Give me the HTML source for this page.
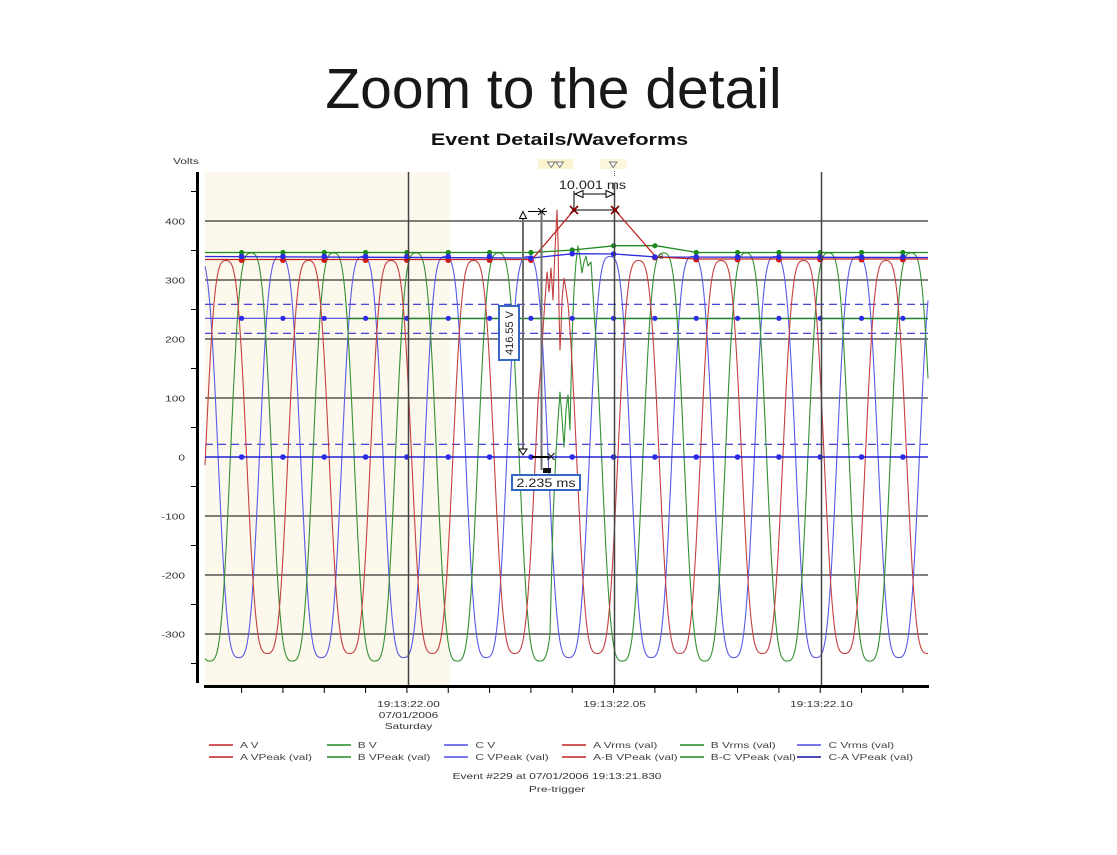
<!DOCTYPE html>
<html><head><meta charset="utf-8">
<style>
html,body{margin:0;padding:0;background:#fff;}
svg{display:block;}
text{font-family:"Liberation Sans",Arial,sans-serif;}
</style></head><body>
<svg id="chart" width="1117" height="855" viewBox="0 0 1117 855" xmlns="http://www.w3.org/2000/svg">
<rect width="1117" height="855" fill="#fff"/>
<text x="553.5" y="108" font-size="57" text-anchor="middle" fill="#181818">Zoom to the detail</text>
<text transform="translate(559.5,145) scale(1.31,1)" font-size="16.5" font-weight="bold" text-anchor="middle" fill="#111">Event Details/Waveforms</text>
<text transform="translate(173,164) scale(1.4,1)" font-size="8.5" fill="#333">Volts</text>

<!-- top markers -->
<rect x="538" y="159" width="35" height="10" fill="#fbf4cf"/>
<rect x="600" y="159" width="27" height="10" fill="#fbf6dc"/>
<polygon points="547.5,162 555,162 551.2,167.5" fill="#fff" stroke="#777" stroke-width="1"/>
<polygon points="556,162 563.5,162 559.7,167.5" fill="#fff" stroke="#777" stroke-width="1"/>
<polygon points="609.5,162 617,162 613.2,167.5" fill="#fff" stroke="#777" stroke-width="1"/>

<!-- plot shaded bg -->
<rect x="205" y="172" width="245" height="513" fill="#fdf8ec"/>

<!-- horizontal grid -->
<g stroke="#000" stroke-width="1">
<line x1="205" x2="928" y1="221" y2="221"/>
<line x1="205" x2="928" y1="280" y2="280"/>
<line x1="205" x2="928" y1="339" y2="339"/>
<line x1="205" x2="928" y1="398" y2="398"/>
<line x1="205" x2="928" y1="457" y2="457"/>
<line x1="205" x2="928" y1="516" y2="516"/>
<line x1="205" x2="928" y1="575" y2="575"/>
<line x1="205" x2="928" y1="634" y2="634"/>
</g>

<!-- dashed blue limit lines -->
<g stroke="#2f2fd0" stroke-width="1.2" stroke-dasharray="8,5">
<line x1="205" x2="928" y1="304.3" y2="304.3"/>
<line x1="205" x2="928" y1="333.3" y2="333.3"/>
<line x1="205" x2="928" y1="444.3" y2="444.3"/>
</g>

<!-- waveforms -->
<g id="waves" fill="none" stroke-width="1.1" stroke-linejoin="round"></g>

<!-- rms/peak lines -->
<g fill="none" stroke-width="1.3">
<path d="M205,252.5 L532,252.5 L573,250 L615,245.7 L656,245.7 L697,252.5 L928,252.5" stroke="#1f8a1f"/>
<path d="M205,256.5 L532,258 L573,253.7 L615,254 L656,257 L928,257.5" stroke="#2a2ae0"/>
<path d="M205,259.5 L532,259.5 L574,210 M615,210 L656,257 L697,259 L928,259" stroke="#c02020"/>
<line x1="205" x2="928" y1="318.3" y2="318.3" stroke="#4a4ae6" stroke-width="1.2"/>
<line x1="347" x2="928" y1="318.6" y2="318.6" stroke="#1f8a1f" stroke-width="1.4"/>
<line x1="205" x2="928" y1="457" y2="457" stroke="#2020d8" stroke-width="1.4"/>
</g>
<g id="dots"></g>
<text x="659" y="259" font-size="7" fill="#333">B</text>

<!-- vertical cursor lines -->
<g stroke="#444" stroke-width="1.5">
<line x1="408.5" x2="408.5" y1="172" y2="686"/>
<line x1="614.5" x2="614.5" y1="183" y2="686"/>
<line x1="821.5" x2="821.5" y1="172" y2="686"/>
</g>
<line x1="614.5" x2="614.5" y1="171" y2="176" stroke="#666" stroke-width="1" stroke-dasharray="1,1"/>

<!-- axes -->
<line x1="197.5" x2="197.5" y1="172" y2="683" stroke="#000" stroke-width="3"/>
<line x1="204" x2="929" y1="686.5" y2="686.5" stroke="#000" stroke-width="3"/>
<g stroke="#000" stroke-width="1">
<line x1="191" x2="197" y1="191.5" y2="191.5"/>
<line x1="191" x2="197" y1="250.5" y2="250.5"/>
<line x1="191" x2="197" y1="309.5" y2="309.5"/>
<line x1="191" x2="197" y1="368.5" y2="368.5"/>
<line x1="191" x2="197" y1="427.5" y2="427.5"/>
<line x1="191" x2="197" y1="486.5" y2="486.5"/>
<line x1="191" x2="197" y1="545.5" y2="545.5"/>
<line x1="191" x2="197" y1="604.5" y2="604.5"/>
<line x1="191" x2="197" y1="663.5" y2="663.5"/>
</g>
<g id="xticks" stroke="#000" stroke-width="1"></g>

<!-- y labels -->
<g font-size="8.5" fill="#333" text-anchor="end">
<text transform="translate(185,224.5) scale(1.4,1)">400</text>
<text transform="translate(185,283.5) scale(1.4,1)">300</text>
<text transform="translate(185,342.5) scale(1.4,1)">200</text>
<text transform="translate(185,401.5) scale(1.4,1)">100</text>
<text transform="translate(185,460.5) scale(1.4,1)">0</text>
<text transform="translate(185,519.5) scale(1.4,1)">-100</text>
<text transform="translate(185,578.5) scale(1.4,1)">-200</text>
<text transform="translate(185,637.5) scale(1.4,1)">-300</text>
</g>

<!-- x labels -->
<g font-size="8.5" fill="#333" text-anchor="middle">
<text transform="translate(408.5,707) scale(1.4,1)">19:13:22.00</text>
<text transform="translate(408.5,718) scale(1.4,1)">07/01/2006</text>
<text transform="translate(408.5,729) scale(1.4,1)">Saturday</text>
<text transform="translate(614.5,707) scale(1.4,1)">19:13:22.05</text>
<text transform="translate(821.5,707) scale(1.4,1)">19:13:22.10</text>
</g>

<!-- annotations -->
<text transform="translate(592.5,189) scale(1.2,1)" font-size="12" text-anchor="middle" fill="#222">10.001 ms</text>
<line x1="575" x2="614" y1="194" y2="194" stroke="#000" stroke-width="1"/>
<polygon points="575,194 583,190.5 583,197.5" fill="#fff" stroke="#000" stroke-width="1"/>
<polygon points="614,194 606,190.5 606,197.5" fill="#fff" stroke="#000" stroke-width="1"/>
<line x1="574" x2="574" y1="191" y2="210" stroke="#000" stroke-width="1"/>
<line x1="574" x2="615" y1="210" y2="210" stroke="#000" stroke-width="1"/>
<g stroke="#7a0000" stroke-width="1.6">
<line x1="570" y1="206" x2="578" y2="214"/><line x1="570" y1="214" x2="578" y2="206"/>
<line x1="611" y1="206" x2="619" y2="214"/><line x1="611" y1="214" x2="619" y2="206"/>
</g>
<circle cx="574" cy="210" r="2" fill="#8a0000"/>
<circle cx="615" cy="210" r="2" fill="#8a0000"/>

<line x1="523" x2="523" y1="216" y2="452" stroke="#6e6e6e" stroke-width="2"/>
<line x1="541.5" x2="541.5" y1="211" y2="470" stroke="#6e6e6e" stroke-width="2"/>
<polygon points="519.5,218.5 526.5,218.5 523,211.5" fill="#fff" stroke="#000" stroke-width="1"/>
<line x1="528" x2="547" y1="211.5" y2="211.5" stroke="#000" stroke-width="1"/>
<line x1="538" y1="208" x2="545" y2="215" stroke="#000" stroke-width="1"/>
<line x1="538" y1="215" x2="545" y2="208" stroke="#000" stroke-width="1"/>
<polygon points="519,449 527,449 523,455" fill="#fff" stroke="#000" stroke-width="1"/>
<line x1="532" x2="549" y1="457" y2="457" stroke="#000" stroke-width="2"/>
<line x1="547.5" y1="453" x2="554.5" y2="460" stroke="#000" stroke-width="1"/>
<line x1="547.5" y1="460" x2="554.5" y2="453" stroke="#000" stroke-width="1"/>
<rect x="543" y="468" width="8" height="5" fill="#111"/>

<rect x="499" y="306" width="20" height="54" fill="#fff" stroke="#3568c0" stroke-width="2"/>
<text transform="translate(513,333) rotate(-90)" font-size="11" text-anchor="middle" fill="#222">416.55 V</text>
<rect x="512" y="475" width="68" height="15" fill="#fff" stroke="#3568c0" stroke-width="2"/>
<text transform="translate(546,487) scale(1.2,1)" font-size="12" text-anchor="middle" fill="#222">2.235 ms</text>

<!-- legend -->
<g stroke-width="1.5">
<line x1="209" x2="233" y1="745" y2="745" stroke="#c02020"/>
<line x1="327" x2="351" y1="745" y2="745" stroke="#1f8a1f"/>
<line x1="444" x2="468" y1="745" y2="745" stroke="#4a4ae6"/>
<line x1="562" x2="586" y1="745" y2="745" stroke="#c02020"/>
<line x1="680" x2="704" y1="745" y2="745" stroke="#1f8a1f"/>
<line x1="797" x2="821" y1="745" y2="745" stroke="#4a4ae6"/>
<line x1="209" x2="233" y1="757" y2="757" stroke="#c02020"/>
<line x1="327" x2="351" y1="757" y2="757" stroke="#1f8a1f"/>
<line x1="444" x2="468" y1="757" y2="757" stroke="#4a4ae6"/>
<line x1="562" x2="586" y1="757" y2="757" stroke="#c02020"/>
<line x1="680" x2="704" y1="757" y2="757" stroke="#1f8a1f"/>
<line x1="797" x2="821" y1="757" y2="757" stroke="#1010a0"/>
</g>
<g font-size="8.5" fill="#444">
<text transform="translate(240,748) scale(1.4,1)">A V</text>
<text transform="translate(357.7,748) scale(1.4,1)">B V</text>
<text transform="translate(475.4,748) scale(1.4,1)">C V</text>
<text transform="translate(593.1,748) scale(1.4,1)">A Vrms (val)</text>
<text transform="translate(710.8,748) scale(1.4,1)">B Vrms (val)</text>
<text transform="translate(828.5,748) scale(1.4,1)">C Vrms (val)</text>
<text transform="translate(240,760) scale(1.4,1)">A VPeak (val)</text>
<text transform="translate(357.7,760) scale(1.4,1)">B VPeak (val)</text>
<text transform="translate(475.4,760) scale(1.4,1)">C VPeak (val)</text>
<text transform="translate(593.1,760) scale(1.4,1)">A-B VPeak (val)</text>
<text transform="translate(710.8,760) scale(1.4,1)">B-C VPeak (val)</text>
<text transform="translate(828.5,760) scale(1.4,1)">C-A VPeak (val)</text>
</g>
<g font-size="8.5" fill="#333" text-anchor="middle">
<text transform="translate(557,779) scale(1.4,1)">Event #229 at 07/01/2006 19:13:21.830</text>
<text transform="translate(557,792) scale(1.4,1)">Pre-trigger</text>
</g>
</svg>
<script>
(function(){
  var NS="http://www.w3.org/2000/svg";
  var T=82.5;
  function f(x,xp,P){var th=2*Math.PI*(x-xp)/T+Math.PI/2;return P*(Math.sin(th)+0.1*Math.sin(3*th))/0.9;}
  function Y(v){return 457-0.59*v;}
  function build(xp,P,ov){
    var pts=[],x;
    for(x=205;x<=928;x+=1){pts.push([x,Y(f(x,xp,P))]);}
    if(ov){
      ov=ov.map(function(p){return [p[0], p[1]===null?Y(f(p[0],xp,P)):p[1]];});
      var a=ov[0][0], b=ov[ov.length-1][0];
      var before=pts.filter(function(p){return p[0]<a;});
      var after=pts.filter(function(p){return p[0]>b;});
      pts=before.concat(ov).concat(after);
    }
    return 'M'+pts.map(function(p){return p[0].toFixed(1)+','+p[1].toFixed(1);}).join('L');
  }
  var waves=document.getElementById('waves');
  function add(d,c){var p=document.createElementNS(NS,'path');p.setAttribute('d',d);p.setAttribute('stroke',c);waves.appendChild(p);}
  var redOv=[[538,null],[541,365],[543,330],[545,300],[547,272],[549,292],[551,268],[553,300],[555,250],[557,210],[558,240],[559,310],[560,350],[561,330],[562,300],[564,278],[566,290],[568,null]];
  var grnOv=[[550,null],[553,520],[556,452],[558,420],[560,392],[562,418],[564,447],[566,410],[568,395],[570,430],[572,340],[574,290],[576,262],[578,246],[580,258],[582,273],[584,262],[586,256],[588,266],[591,262],[594,null]];
  add(build(280,340,null),'#5a5ae6');
  add(build(251,346,grnOv),'#339033');
  add(build(226,333,redOv),'#c44040');

  var dots=document.getElementById('dots');
  function dot(x,y,r,c){var e=document.createElementNS(NS,'circle');e.setAttribute('cx',x);e.setAttribute('cy',y);e.setAttribute('r',r);e.setAttribute('fill',c);dots.appendChild(e);}
  var xt=document.getElementById('xticks');
  for(var k=0;k<17;k++){
    var x=241.6+41.33*k;
    var l=document.createElementNS(NS,'line');
    l.setAttribute('x1',x);l.setAttribute('x2',x);l.setAttribute('y1',688);l.setAttribute('y2',693);
    xt.appendChild(l);
    var gy=252.5; if(k==8)gy=250; if(k==9||k==10)gy=245.7;
    dot(x,gy,2.6,'#1a8a1a');
    if(k!=8&&k!=9){var ry=260; if(k==10)ry=257.5; if(k>10)ry=259.5; dot(x,ry,3,'#d01818');}
    var by=256.5; if(k==7)by=258; if(k==8)by=253.7; if(k==9)by=254; if(k>=10)by=257;
    dot(x,by,2.8,'#2a2ae8');
    dot(x,318.3,2.6,'#2a2ae8');
    dot(x,457,2.8,'#2a2ae8');
  }
})();
</script>
</body></html>
